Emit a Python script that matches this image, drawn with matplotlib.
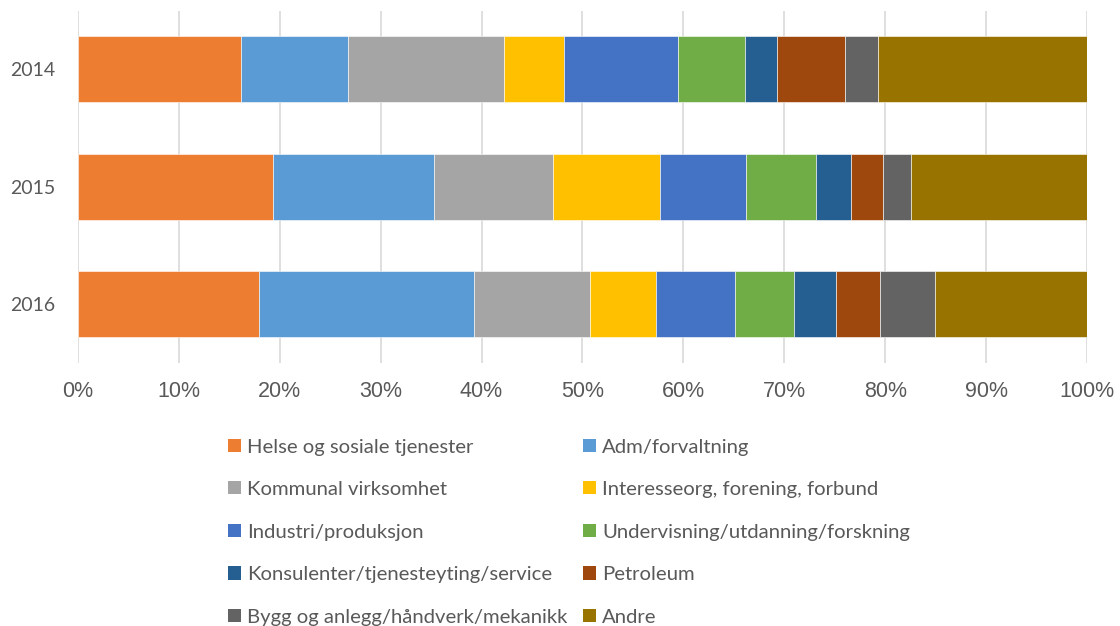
import matplotlib.pyplot as plt
from matplotlib.ticker import PercentFormatter
from matplotlib.patches import Patch

years = ["2014", "2015", "2016"]
categories = [
    "Helse og sosiale tjenester",
    "Adm/forvaltning",
    "Kommunal virksomhet",
    "Interesseorg, forening, forbund",
    "Industri/produksjon",
    "Undervisning/utdanning/forskning",
    "Konsulenter/tjenesteyting/service",
    "Petroleum",
    "Bygg og anlegg/håndverk/mekanikk",
    "Andre",
]
# percent share per category, for 2014, 2015, 2016
shares = {
    "Helse og sosiale tjenester": [16.2, 19.3, 17.9],
    "Adm/forvaltning": [10.6, 16.0, 21.4],
    "Kommunal virksomhet": [15.4, 11.8, 11.4],
    "Interesseorg, forening, forbund": [6.0, 10.6, 6.6],
    "Industri/produksjon": [11.3, 8.5, 7.8],
    "Undervisning/utdanning/forskning": [6.6, 6.9, 5.9],
    "Konsulenter/tjenesteyting/service": [3.2, 3.5, 4.1],
    "Petroleum": [6.7, 3.2, 4.4],
    "Bygg og anlegg/håndverk/mekanikk": [3.3, 2.8, 5.4],
    "Andre": [20.7, 17.4, 15.1],
}
colors = ["#ED7D31", "#5B9BD5", "#A5A5A5", "#FFC000", "#4472C4",
          "#70AD47", "#255E91", "#9E480E", "#636363", "#997300"]

plt.rcParams['font.family'] = ['Lato', 'DejaVu Sans']

fig = plt.figure(figsize=(11.2, 6.26), dpi=100)
ax = fig.add_axes([0.0696, 0.42, 0.9009, 0.563])

ypos = list(range(len(years)))
left = [0.0] * len(years)
for cat, col in zip(categories, colors):
    vals = shares[cat]
    ax.barh(ypos, vals, left=left, height=0.56, color=col,
            edgecolor="white", linewidth=0.4, zorder=3)
    left = [l + v for l, v in zip(left, vals)]

ax.set_xlim(0, 100)
ax.set_ylim(2.5, -0.5)
ax.set_yticks(ypos)
ax.set_yticklabels(years)
ax.set_xticks(range(0, 101, 10))
ax.xaxis.set_major_formatter(PercentFormatter(decimals=0))
for lab in ax.get_xticklabels():
    lab.set_family(['Liberation Sans', 'DejaVu Sans'])
ax.grid(axis="x", color="#D9D9D9", linewidth=1.2, zorder=0)
for s in ["top", "right", "bottom", "left"]:
    ax.spines[s].set_visible(False)
ax.tick_params(axis="y", length=0, pad=16, labelsize=14, labelcolor="#595959")
ax.tick_params(axis="x", length=0, pad=13, labelsize=15.5, labelcolor="#595959")

handles = [Patch(facecolor=c, label=n) for n, c in zip(categories, colors)]
order = [0, 2, 4, 6, 8, 1, 3, 5, 7, 9]
leg = fig.legend([handles[i] for i in order], [categories[i] for i in order],
                 ncol=2, loc="center", bbox_to_anchor=(0.508, 0.150),
                 frameon=False, fontsize=14.6, handlelength=0.62, handleheight=0.62,
                 handletextpad=0.3, columnspacing=0.8, labelspacing=1.26,
                 labelcolor="#595959")

fig.savefig("out.png", dpi=100)
